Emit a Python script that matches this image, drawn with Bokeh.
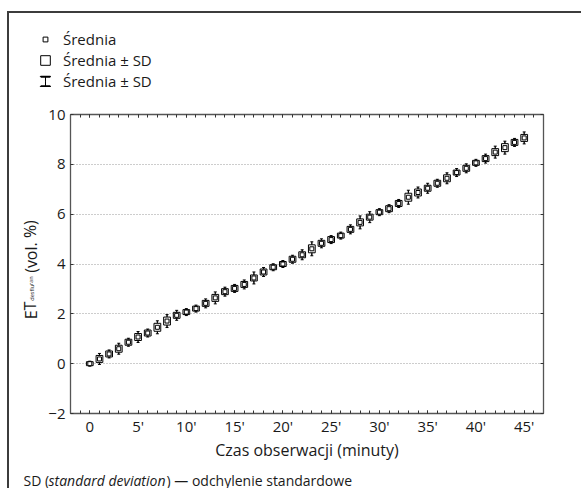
from bokeh.plotting import figure
from bokeh.models import (Legend, LegendItem, LinearAxis, FixedTicker, Label,
                          ColumnDataSource)
from bokeh.layouts import column, row
from bokeh.embed import file_html
from bokeh.resources import INLINE

# ---- data ----
minutes = list(range(0, 46))
mean = [0.00, 0.19, 0.39, 0.60, 0.86, 1.07, 1.23, 1.46, 1.71, 1.94,
        2.07, 2.21, 2.42, 2.64, 2.89, 3.02, 3.18, 3.44, 3.68, 3.87,
        4.00, 4.19, 4.37, 4.61, 4.83, 4.98, 5.14, 5.39, 5.67, 5.88,
        6.08, 6.22, 6.43, 6.68, 6.87, 7.04, 7.24, 7.44, 7.67, 7.84,
        8.06, 8.23, 8.49, 8.67, 8.88, 9.06]
sd_box = [0.08, 0.14, 0.12, 0.14, 0.12, 0.14, 0.12, 0.16, 0.16, 0.12,
          0.10, 0.10, 0.12, 0.14, 0.12, 0.12, 0.12, 0.12, 0.12, 0.10,
          0.10, 0.12, 0.12, 0.16, 0.12, 0.12, 0.10, 0.12, 0.14, 0.12,
          0.10, 0.12, 0.12, 0.16, 0.14, 0.12, 0.12, 0.14, 0.10, 0.12,
          0.10, 0.12, 0.14, 0.16, 0.12, 0.14]
sd_whisker = [0.10, 0.22, 0.16, 0.22, 0.16, 0.22, 0.16, 0.26, 0.26, 0.20,
              0.14, 0.14, 0.18, 0.24, 0.18, 0.16, 0.18, 0.24, 0.18, 0.14,
              0.14, 0.16, 0.20, 0.28, 0.18, 0.16, 0.14, 0.18, 0.26, 0.22,
              0.14, 0.16, 0.16, 0.28, 0.22, 0.20, 0.16, 0.22, 0.16, 0.18,
              0.14, 0.18, 0.24, 0.26, 0.16, 0.24]
x_ticks = [0, 5, 10, 15, 20, 25, 30, 35, 40, 45]
x_tick_labels = ["0", "5'", "10'", "15'", "20'", "25'", "30'", "35'", "40'", "45'"]
y_ticks = [-2, 0, 2, 4, 6, 8, 10]
y_tick_labels = ["\u22122", "0", "2", "4", "6", "8", "10"]
legend_labels = ["Średnia", "Średnia ± SD", "Średnia ± SD"]
x_label = "Czas obserwacji (minuty)"
y_label_parts = ["ET", "desfluran", "(vol. %)"]
foot_parts = ["SD (", "standard deviation", ") \u2014 odchylenie standardowe"]

FONT = "Open Sans"
INK = "#1a1a1a"
FRAME = "#555555"

src = ColumnDataSource(dict(
    x=minutes, mean=mean,
    h_box=[2 * s for s in sd_box],
    h_whisk=[2 * s for s in sd_whisker],
    top=[m + s for m, s in zip(mean, sd_whisker)],
    bot=[m - s for m, s in zip(mean, sd_whisker)],
))


def blank(width, height, y_range=(0, 1)):
    f = figure(width=width, height=height, x_range=(-2, 47), y_range=y_range,
               output_backend="svg", toolbar_location=None, title=None,
               x_axis_location=None, y_axis_location=None, min_border=0,
               outline_line_color=None, background_fill_color="white",
               border_fill_color="white")
    f.grid.visible = False
    return f


# ---------------- main chart ----------------
p = figure(width=536, height=360, x_range=(-2, 47), y_range=(-2, 10),
           output_backend="svg", toolbar_location=None, title=None,
           min_border_left=24, min_border_top=10, min_border_right=38,
           min_border_bottom=51, background_fill_color="white",
           border_fill_color="white", outline_line_color=FRAME)

xax = p.xaxis[0]
yax = p.yaxis[0]
x_minor = list(range(-1, 47))
xt = FixedTicker(ticks=x_ticks, minor_ticks=x_minor)
yt = FixedTicker(ticks=y_ticks, minor_ticks=[])
xax.ticker = xt
yax.ticker = yt
xax.major_label_overrides = {t: l for t, l in zip(x_ticks, x_tick_labels)}
yax.major_label_overrides = {t: l for t, l in zip(y_ticks, y_tick_labels)}
p.xgrid.visible = False
p.ygrid.ticker = yt
p.ygrid.grid_line_color = "#9a9a9a"
p.ygrid.grid_line_dash = "1 2"
p.ygrid.grid_line_width = 1

top_ax = LinearAxis(ticker=FixedTicker(ticks=x_ticks, minor_ticks=x_minor),
                    major_label_overrides={t: "" for t in x_ticks})
right_ax = LinearAxis(ticker=FixedTicker(ticks=y_ticks, minor_ticks=[]),
                      major_label_overrides={t: "" for t in y_ticks})
p.add_layout(top_ax, "above")
p.add_layout(right_ax, "right")

for ax in [xax, yax, top_ax, right_ax]:
    ax.axis_line_color = FRAME
    ax.axis_line_width = 1.3
    ax.major_tick_in = 3
    ax.major_tick_out = 0
    ax.minor_tick_in = 3
    ax.minor_tick_out = 0
    ax.major_tick_line_color = "#333333"
    ax.minor_tick_line_color = "#333333"
    ax.major_label_text_font = FONT
    ax.major_label_text_font_size = "15px"
    ax.major_label_text_color = INK
top_ax.major_label_standoff = 0
right_ax.major_label_standoff = 0
xax.major_label_standoff = 2
yax.major_label_standoff = 5
xax.axis_label = x_label
xax.axis_label_text_font = FONT
xax.axis_label_text_font_size = "16px"
xax.axis_label_text_font_style = "normal"
xax.axis_label_text_color = INK
xax.axis_label_standoff = 0


def draw_series(f):
    rw = f.ellipse(x="x", y="mean", width=0.02, width_units="screen",
                   height="h_whisk", source=src, fill_color=None,
                   line_color="black", line_width=1)
    f.scatter(x="x", y="top", marker="dash", size=3, source=src, line_color="black")
    f.scatter(x="x", y="bot", marker="dash", size=3, source=src, line_color="black")
    rb = f.rect(x="x", y="mean", width=0.7, height="h_box", source=src,
                fill_color="white", line_color="black", line_width=1)
    rm = f.scatter(x="x", y="mean", marker="square", size=4, source=src,
                   fill_color="white", line_color="black", line_width=1)
    return rw, rb, rm


draw_series(p)

# ---------------- legend strip (above the chart) ----------------
top_fig = blank(572, 91, y_range=(20, 21))
t_whisk, t_box, t_mean = draw_series(top_fig)
t_caps = top_fig.rect(x="x", y="mean", width=0.7, height="h_box", source=src,
                      fill_color=None, line_color="black", line_width=2,
                      line_dash="10 9")
legend = Legend(items=[
    LegendItem(label=legend_labels[0], renderers=[t_mean]),
    LegendItem(label=legend_labels[1], renderers=[t_box]),
    LegendItem(label=legend_labels[2], renderers=[t_whisk, t_caps]),
], location=(30, 13), glyph_width=12, glyph_height=12, label_standoff=12,
    spacing=1, padding=0, margin=0, border_line_color=None,
    background_fill_alpha=0, label_text_font=FONT, label_text_font_size="15px",
    label_text_color=INK, label_height=20)
top_fig.add_layout(legend)

# ---------------- y-axis title strip (frame aligned with the chart frame) ----------------
left_fig = blank(36, 360)
for txt, xx, yy, fs in [(y_label_parts[0], 21, 103, "16px"),
                        (y_label_parts[1], 22, 125, "5.5px"),
                        (y_label_parts[2], 21, 167, "16px")]:
    left_fig.add_layout(Label(x=xx, y=yy, x_units="screen", y_units="screen",
                              angle=1.5708, text=txt, text_font=FONT,
                              text_font_size=fs, text_color=INK,
                              text_baseline="middle", text_align="center"))

# ---------------- footnote strip ----------------
foot_fig = blank(572, 24)
for txt, xx, style in [(foot_parts[0], 14, "normal"),
                       (foot_parts[1], 39, "italic"),
                       (foot_parts[2], 157, "normal")]:
    foot_fig.add_layout(Label(x=xx, y=8, x_units="screen", y_units="screen",
                              text=txt, text_font=FONT, text_font_size="14px",
                              text_font_style=style, text_color=INK,
                              text_baseline="alphabetic"))

layout = column(top_fig, row(left_fig, p), foot_fig)
layout.styles = {"margin-left": "7px", "margin-top": "11px",
                 "border-left": "2px solid #3c3c3c",
                 "border-top": "2px solid #3c3c3c"}

open("out.html", "w").write(file_html(layout, INLINE))
